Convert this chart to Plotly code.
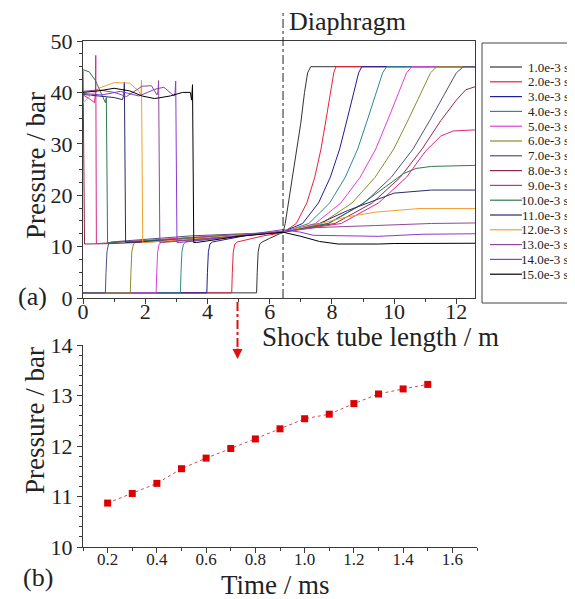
import plotly.graph_objects as go

# browser body margin (8 px) is compensated so that page pixels match the reference
W, H = 575, 599
OFF = 8
FIG_W, FIG_H = W - OFF, H - OFF
FONT = "Liberation Serif"

# ---------------- data: panel (a), pressure profiles along the tube ----------------
X1 = [0, 5.58, 5.60, 5.63, 5.68, 5.76, 6.0, 6.43, 6.5, 6.6, 6.73, 6.87, 7.0, 7.12, 7.22, 7.32, 12.6]
P1 = [1, 1, 5, 9, 10.5, 10.9, 11.6, 12.8, 14.5, 18.4, 23.5, 28.1, 34, 40, 43.8, 45, 45]
X2 = [0, 4.78, 4.80, 4.83, 4.88, 4.96, 5.8, 6.43, 6.855, 7.195, 7.45, 7.65, 7.82, 7.96, 8.06, 8.13, 12.6]
P2 = [1, 1, 5, 9, 10.5, 10.9, 12.1, 12.7, 14.5, 18.5, 23.5, 29, 35, 40, 43.8, 45, 45]
X3 = [0, 3.98, 4.00, 4.03, 4.08, 4.16, 5.2, 6.43, 7.06, 7.57, 7.95, 8.25, 8.50, 8.71, 8.86, 8.96, 12.6]
P3 = [1, 1, 5, 9, 10.5, 10.9, 12.1, 12.9, 14.5, 18.5, 23.5, 29, 35, 40, 43.8, 45, 45]
X4 = [0, 3.13, 3.15, 3.18, 3.23, 3.31, 4.8, 6.43, 7.26, 7.93, 8.43, 8.83, 9.16, 9.43, 9.63, 9.76, 12.6]
P4 = [1, 1, 5, 9, 10.5, 10.9, 12.0, 12.8, 14.5, 18.5, 23.5, 29, 35, 40, 43.8, 45, 45]
X5 = [0, 2.35, 2.37, 2.40, 2.45, 2.53, 4.4, 6.43, 7.47, 8.29, 8.91, 9.41, 9.82, 10.16, 10.40, 10.57, 12.6]
P5 = [1, 1, 5, 9, 10.5, 10.9, 12.0, 12.8, 14.5, 18.5, 23.5, 29, 35, 40, 43.8, 45, 45]
X6 = [0, 1.52, 1.54, 1.57, 1.62, 1.70, 4.0, 6.43, 7.67, 8.65, 9.39, 9.99, 10.48, 10.88, 11.17, 11.37, 12.6]
P6 = [1, 1, 5, 9, 10.5, 10.9, 12.0, 12.7, 14.5, 18.5, 23.5, 29, 35, 40, 43.8, 45, 45]
X7 = [0, 0.72, 0.74, 0.77, 0.82, 0.90, 3.5, 6.43, 7.88, 9.04, 9.91, 10.61, 11.19, 11.65, 12.0, 12.23, 12.6]
P7 = [1, 1, 5, 9, 10.5, 10.9, 12.1, 12.8, 14.5, 18.5, 23.5, 29, 35, 40, 43.8, 45, 45]
X8 = [0, 0.02, 0.05, 1.0, 3.5, 6.43, 8.1, 9.3, 10.2, 10.9, 11.5, 12.0, 12.3, 12.6]
P8 = [44.2, 30, 10.5, 10.6, 11.3, 12.9, 14.5, 18.5, 23.5, 29, 34.5, 38.5, 40.5, 41.1]
X9 = [0, 0.2, 0.37, 0.40, 0.41, 0.42, 0.43, 0.5, 3.0, 6.43, 8.3, 9.5, 10.4, 11.0, 11.5, 11.9, 12.6]
P9 = [39.5, 38.8, 38, 40, 47.2, 36.6, 10.6, 10.6, 11.6, 12.8, 14.5, 18.5, 23.5, 28.5, 31.5, 32.5, 32.7]
X10 = [0, 0.2, 0.4, 0.6, 0.72, 0.75, 0.77, 0.79, 0.85, 3.0, 6.43, 7.9, 8.9, 9.8, 10.3, 10.7, 11.2, 12.6]
P10 = [44.4, 44, 42.3, 39.5, 38, 39, 30, 10.8, 10.8, 11.4, 12.9, 14.5, 18, 22, 24.2, 25.2, 25.6, 25.8]
X11 = [0, 0.5, 1.0, 1.27, 1.31, 1.33, 1.35, 1.37, 1.45, 3.5, 6.43, 7.6, 8.5, 9.4, 10.0, 11.2, 12.6]
P11 = [39.6, 39.3, 39.0, 38.6, 39.5, 42.0, 25, 10.8, 10.8, 11.5, 12.8, 14.5, 17, 19.1, 20.4, 21.0, 21.0]
X12 = [0, 0.5, 1.0, 1.5, 1.8, 1.86, 1.88, 1.90, 1.92, 2.0, 4.0, 6.43, 7.5, 8.5, 9.4, 10.8, 12.6]
P12 = [38.0, 40.8, 41.9, 41.8, 40.2, 39.5, 42.4, 25, 10.8, 10.8, 11.7, 12.9, 14.3, 15.8, 16.7, 17.4, 17.4]
X13 = [0, 0.5, 1.0, 1.4, 1.9, 2.2, 2.38, 2.41, 2.43, 2.45, 2.47, 2.55, 4.5, 6.43, 7.5, 9.4, 11.2, 12.6]
P13 = [40.2, 40.5, 40.0, 39.2, 41.2, 41.3, 39.5, 40.2, 42.3, 25, 10.8, 10.8, 11.8, 13.0, 13.7, 14.1, 14.5, 14.6]
X14 = [0, 0.6, 1.2, 1.8, 2.3, 2.6, 2.93, 2.96, 2.98, 3.0, 3.02, 3.1, 4.8, 6.43, 7.0, 7.4, 9.5, 10.9, 12.6]
P14 = [39.8, 39.5, 40.2, 39.3, 40.6, 41.0, 39.3, 40.0, 42.2, 25, 10.8, 10.8, 11.9, 13.3, 12.8, 12.2, 12.0, 12.4, 12.5]
X15 = [0, 0.5, 1.0, 1.5, 1.9, 2.3, 2.8, 3.2, 3.45, 3.49, 3.52, 3.54, 3.56, 3.65, 5.0, 6.43, 7.0, 7.6, 8.2, 9.5, 10.0, 12.6]
P15 = [40.0, 40.3, 40.8, 40.3, 39.3, 38.8, 39.3, 40.0, 40.0, 38.5, 41.5, 25, 10.8, 10.8, 12.0, 12.8, 12.0, 11.0, 10.5, 10.5, 10.6, 10.65]

SERIES_LABELS = ["1.0e-3 s", "2.0e-3 s", "3.0e-3 s", "4.0e-3 s", "5.0e-3 s",
                 "6.0e-3 s", "7.0e-3 s", "8.0e-3 s", "9.0e-3 s", "10.0e-3 s",
                 "11.0e-3 s", "12.0e-3 s", "13.0e-3 s", "14.0e-3 s", "15.0e-3 s"]
COLORS = ["#333333", "#e8203c", "#1e1e9a", "#2e8b8b", "#e040d8",
          "#8c8c2a", "#505080", "#902848", "#d8288a", "#2e7a4e",
          "#2a2a6a", "#f0a030", "#904898", "#8a3ad0", "#000000"]
DIAPHRAGM_X = 6.43
X_TICKS_A = [0, 2, 4, 6, 8, 10, 12]
Y_TICKS_A = [0, 10, 20, 30, 40, 50]

# ---------------- data: panel (b) ----------------
TIME_MS = [0.2, 0.3, 0.4, 0.5, 0.6, 0.7, 0.8, 0.9, 1.0, 1.1, 1.2, 1.3, 1.4, 1.5]
PRESS_B = [10.87, 11.06, 11.26, 11.55, 11.76, 11.95, 12.14, 12.34, 12.54, 12.63, 12.84, 13.03, 13.13, 13.22]
X_TICKS_B = [0.2, 0.4, 0.6, 0.8, 1.0, 1.2, 1.4, 1.6]
Y_TICKS_B = [10, 11, 12, 13, 14]

XS = [X1, X2, X3, X4, X5, X6, X7, X8, X9, X10, X11, X12, X13, X14, X15]
PS = [P1, P2, P3, P4, P5, P6, P7, P8, P9, P10, P11, P12, P13, P14, P15]

fig = go.Figure()
for xv, pv, col, lab in zip(XS, PS, COLORS, SERIES_LABELS):
    fig.add_trace(go.Scatter(x=xv, y=pv, mode="lines", name=lab,
                             line=dict(color=col, width=1), xaxis="x", yaxis="y",
                             showlegend=False))

fig.add_trace(go.Scatter(x=TIME_MS, y=PRESS_B, mode="lines+markers",
                         line=dict(color="#c85050", width=1, dash="dot"),
                         marker=dict(symbol="square", size=7, color="#dd0000"),
                         xaxis="x2", yaxis="y2", showlegend=False))


def px_x(v):
    return (v - OFF) / FIG_W


def px_y(v):
    return 1 - (v - OFF) / FIG_H


AX_COL = "#3a3a3a"
TICK_FONT = dict(family="Liberation Serif, serif", size=22, color="#222")
axis_common = dict(showline=True, linecolor=AX_COL, linewidth=1.3, ticks="outside",
                   tickcolor=AX_COL, ticklen=5, tickwidth=1.2, showgrid=False,
                   zeroline=False, automargin=False)

fig.update_layout(
    width=FIG_W, height=FIG_H,
    margin=dict(l=0, r=0, t=0, b=0, pad=0, autoexpand=False),
    paper_bgcolor="white", plot_bgcolor="white", showlegend=False,
    font=dict(family=FONT, color="#222"),
    xaxis=dict(domain=[px_x(83), px_x(475)], range=[0, 12.6], anchor="y",
               tickvals=X_TICKS_A, mirror=True, ticklabelstandoff=-12,
               tickfont=TICK_FONT,
               minor=dict(dtick=1, ticklen=3, tickcolor=AX_COL, ticks="outside"),
               **axis_common),
    yaxis=dict(domain=[px_y(298), px_y(41)], range=[0, 50], anchor="x",
               tickvals=Y_TICKS_A, mirror=True, tickfont=TICK_FONT,
               minor=dict(dtick=2.5, ticklen=3, tickcolor=AX_COL, ticks="outside"),
               **axis_common),
    xaxis2=dict(domain=[px_x(83), px_x(477)], range=[0.1, 1.7], anchor="y2",
                tickvals=X_TICKS_B, tickformat=".1f", ticklabelstandoff=-9,
                tickfont=dict(family="Liberation Serif, serif", size=17, color="#222"),
                minor=dict(dtick=0.1, ticklen=3, tickcolor=AX_COL, ticks="outside"),
                **axis_common),
    yaxis2=dict(domain=[px_y(547), px_y(345)], range=[10, 14], anchor="x2",
                tickvals=Y_TICKS_B, tickfont=TICK_FONT,
                minor=dict(dtick=0.2, ticklen=3, tickcolor=AX_COL, ticks="outside"),
                **axis_common),
)

shapes = []
# diaphragm line
shapes.append(dict(type="line", xref="x", yref="paper", x0=DIAPHRAGM_X, x1=DIAPHRAGM_X,
                   y0=px_y(298), y1=px_y(11),
                   line=dict(color="#222", width=1, dash="dashdot")))
# red arrow shaft
shapes.append(dict(type="line", xref="paper", yref="paper", x0=px_x(237.5), x1=px_x(237.5),
                   y0=px_y(302), y1=px_y(350),
                   line=dict(color="#e01010", width=2, dash="dashdot")))
# legend box
shapes.append(dict(type="rect", xref="paper", yref="paper", x0=px_x(482), x1=px_x(573),
                   y0=px_y(303), y1=px_y(43), line=dict(color="#444", width=1)))

annotations = []
for i, (lab, col) in enumerate(zip(SERIES_LABELS, COLORS)):
    yy = 67 + i * 14.8
    shapes.append(dict(type="line", xref="paper", yref="paper", x0=px_x(490), x1=px_x(522),
                       y0=px_y(yy), y1=px_y(yy), line=dict(color=col, width=1.2)))
    annotations.append(dict(text=lab, xref="paper", yref="paper", x=px_x(571), y=px_y(yy),
                            xanchor="right", yanchor="middle", showarrow=False,
                            font=dict(family=FONT, size=13, color="#222")))

# arrow head
annotations.append(dict(text="", xref="paper", yref="paper", x=px_x(237.5), y=px_y(359),
                        ax=0, ay=-12, showarrow=True, arrowhead=2, arrowsize=1,
                        arrowwidth=2, arrowcolor="#e01010"))


def txt(t, x, y, size, angle=0, xanchor="center"):
    annotations.append(dict(text=t, xref="paper", yref="paper", x=px_x(x), y=px_y(y),
                            xanchor=xanchor, yanchor="middle", showarrow=False,
                            textangle=angle, font=dict(family=FONT, size=size, color="#222")))


txt("Diaphragm", 287, 22, 26, xanchor="left")
txt("Shock tube length / m", 380, 337, 27)
txt("Pressure / bar", 36, 166, 27, angle=-90)
txt("Pressure / bar", 35, 421, 27, angle=-90)
txt("Time / ms", 275, 585, 27)
txt("(a)", 32, 296, 26)
txt("(b)", 38, 577, 26)

fig.update_layout(shapes=shapes, annotations=annotations)
fig.write_html("out.html")
